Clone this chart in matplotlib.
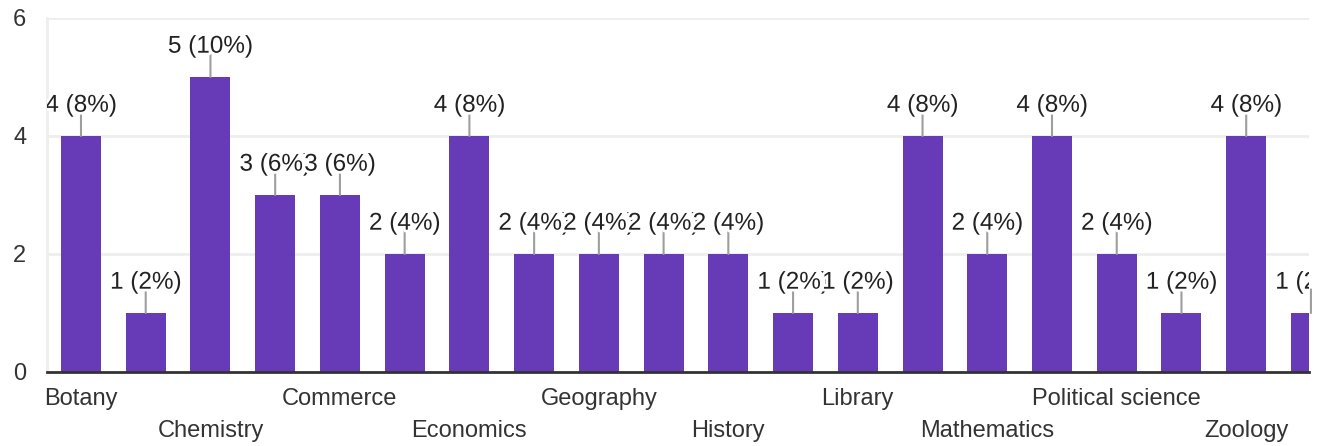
import matplotlib
matplotlib.use("Agg")
import matplotlib.pyplot as plt
import matplotlib.patheffects as pe

plt.rcParams['font.family'] = ['Liberation Sans', 'DejaVu Sans']

# Response counts per department (50 responses in total)
counts = [4, 1, 5, 3, 3, 2, 4, 2, 2, 2, 2, 1, 1, 4, 2, 4, 2, 1, 4, 1]
total = 50
# Only every other department name is printed on the axis
tick_names = ["Botany", "Chemistry", "Commerce", "Economics", "Geography",
              "History", "Library", "Mathematics", "Political science", "Zoology"]
y_ticks = [0, 2, 4, 6]

BAR = "#673ab7"
TEXT = "#333333"
GRID = "#eeeeee"

fig = plt.figure(figsize=(13.27, 4.46), dpi=100)
ax = fig.add_axes([47 / 1327, 1 - 372 / 446, (1309 - 47) / 1327, (372 - 18) / 446])

xs = list(range(len(counts)))
ax.bar(xs, counts, width=0.618, color=BAR, zorder=2)

ax.set_xlim(-0.525, 18.97)
ax.set_ylim(0, 6)
ax.set_yticks(y_ticks)
ax.yaxis.grid(True, color=GRID, linewidth=2, zorder=0)
ax.set_axisbelow(True)

for s in ("top", "right"):
    ax.spines[s].set_visible(False)
ax.spines["left"].set_color(GRID)
ax.spines["left"].set_linewidth(2)
ax.spines["bottom"].set_color(TEXT)
ax.spines["bottom"].set_linewidth(2)
ax.spines["bottom"].set_zorder(3)

ax.tick_params(axis="y", length=0, pad=15, labelsize=17, labelcolor=TEXT)
ax.tick_params(axis="x", length=0, labelsize=17, labelcolor=TEXT)
ax.set_xticks(list(range(0, len(counts), 2)))
ax.set_xticklabels(tick_names)
for j, tick in enumerate(ax.xaxis.get_major_ticks()):
    tick.set_pad(11.5 if j % 2 == 0 else 34.5)

halo = [pe.withStroke(linewidth=4, foreground="white")]
for i, v in enumerate(counts):
    ax.annotate("", xy=(i, v), xytext=(0, 17), textcoords="offset points",
                arrowprops=dict(arrowstyle="-", color="#9e9e9e", lw=1.5,
                                shrinkA=0, shrinkB=0),
                zorder=3, clip_on=True, annotation_clip=False)
    label = f"{v} ({round(v / total * 100)}%)"
    ax.annotate(label, xy=(i, v), xytext=(0, 17.5), textcoords="offset points",
                ha="center", va="baseline", fontsize=17.5, color="#222222",
                path_effects=halo, zorder=4 + i, clip_on=True,
                annotation_clip=False)

fig.savefig("out.png", dpi=100)
